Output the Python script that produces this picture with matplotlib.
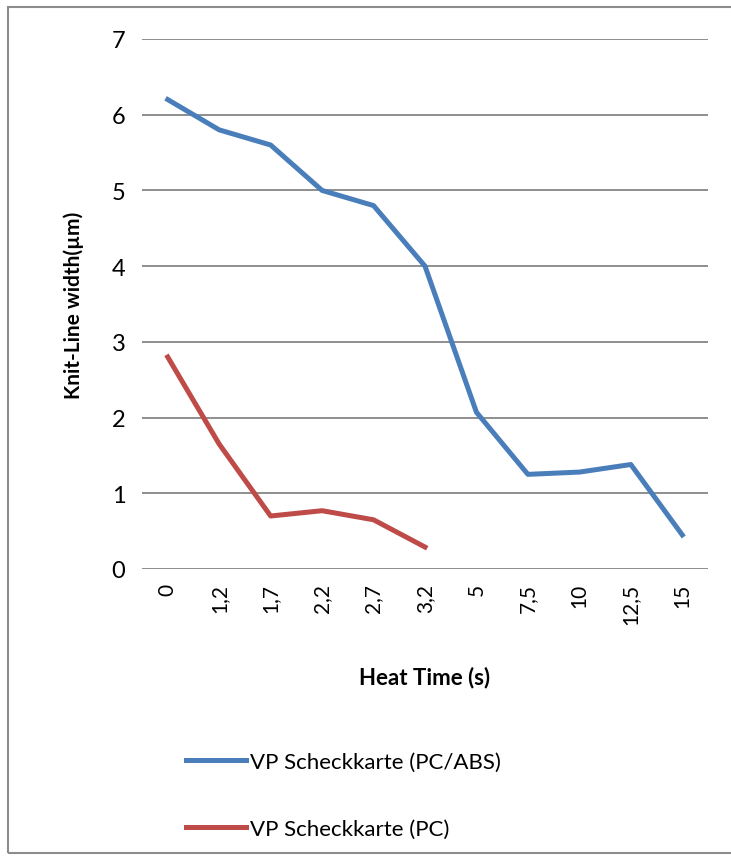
import matplotlib
matplotlib.use("Agg")
import matplotlib.pyplot as plt
from matplotlib.patches import Rectangle
from matplotlib.lines import Line2D

categories = ["0", "1,2", "1,7", "2,2", "2,7", "3,2", "5", "7,5", "10", "12,5", "15"]
pc_abs = [6.2, 5.8, 5.6, 5.0, 4.8, 4.0, 2.07, 1.25, 1.28, 1.38, 0.45]
pc = [2.8, 1.65, 0.70, 0.77, 0.65, 0.29]
series_names = ["VP Scheckkarte (PC/ABS)", "VP Scheckkarte (PC)"]
colors = ["#4A7EBB", "#BE4B48"]

plt.rcParams["font.family"] = ["Lato", "DejaVu Sans"]

fig = plt.figure(figsize=(7.31, 8.62), dpi=100)
fig.patch.set_facecolor("white")
fig.patches.append(Rectangle((8 / 731, 8 / 862), 1.2, 1 - 16 / 862,
                             transform=fig.transFigure, fill=False,
                             edgecolor="#8c8c8c", linewidth=1.5))

ax = fig.add_axes([142 / 731, 1 - 570 / 862, 566 / 731, 530 / 862])
x = list(range(len(categories)))
ax.plot(x, pc_abs, color=colors[0], linewidth=3.6, solid_joinstyle="round")
ax.plot(x[:len(pc)], pc, color=colors[1], linewidth=3.6, solid_joinstyle="round")

ax.set_xlim(-0.5, len(categories) - 0.5)
ax.set_ylim(0, 7)
ax.set_yticks(range(0, 8))
ax.set_xticks(x)
ax.set_xticklabels(categories, rotation=90, fontsize=15)
ax.tick_params(axis="y", labelsize=17, length=0, pad=12)
ax.tick_params(axis="x", length=0, pad=10)
ax.grid(axis="y", color="#868686", linewidth=1.3)
ax.set_axisbelow(True)
for s in ax.spines.values():
    s.set_visible(False)

ax.set_xlabel("Heat Time (s)", fontsize=16, fontweight="bold", labelpad=30)
ax.set_ylabel("Knit-Line width(µm)", fontsize=15, fontweight="bold", labelpad=20)

handles = [Line2D([], [], color=c, linewidth=3.6) for c in colors]
leg = fig.legend(handles, series_names, loc="upper left",
                 bbox_to_anchor=(166 / 731, 1 - 733 / 862), frameon=False,
                 fontsize=16, handlelength=2.7, handletextpad=0.2,
                 labelspacing=2.1)

fig.savefig("out.png", dpi=100, facecolor="white")
